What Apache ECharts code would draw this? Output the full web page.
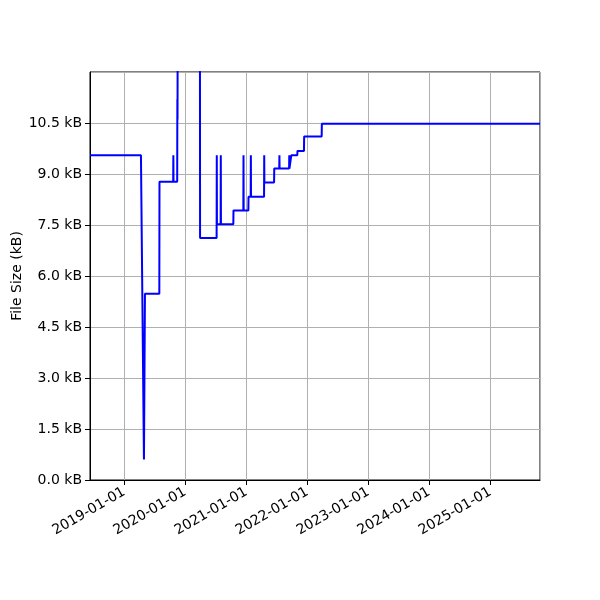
<!DOCTYPE html>
<html>
<head>
<meta charset="utf-8">
<script src="https://cdn.jsdelivr.net/npm/echarts@6/dist/echarts.min.js"></script>
<style>
html,body{margin:0;padding:0;background:#fff;}
#chart{width:600px;height:600px;}
</style>
</head>
<body>
<div id="chart"></div>
<script>
const dates = [
'2018-06-10','2019-04-11','2019-04-29','2019-05-05','2019-07-30','2019-07-31',
'2019-10-21','2019-10-22','2019-10-23','2019-11-14','2019-11-15','2019-11-16',
'2019-11-17','2020-03-29','2020-03-30','2020-07-07','2020-07-08','2020-07-09',
'2020-07-31','2020-08-01','2020-08-02','2020-10-15','2020-10-16','2020-12-14',
'2020-12-15','2020-12-16','2021-01-13','2021-01-14','2021-01-27','2021-01-28',
'2021-01-29','2021-04-17','2021-04-18','2021-04-19','2021-06-16','2021-06-17',
'2021-07-17','2021-07-18','2021-07-19','2021-09-14','2021-09-15','2021-09-16',
'2021-09-26','2021-09-27','2021-11-02','2021-11-03','2021-12-12','2021-12-13',
'2022-03-28','2022-03-29','2025-10-25'
];
const sizesKB = [
9.55,9.55,0.6,5.48,5.48,8.77,
8.77,9.55,8.77,8.77,11.2,10.6,
14.0,14.0,7.12,7.12,9.55,7.52,
7.52,9.55,7.52,7.52,7.93,7.93,
9.55,7.93,7.93,8.33,8.33,9.55,
8.33,8.33,9.55,8.75,8.75,9.16,
9.16,9.55,9.16,9.16,9.55,9.16,
9.16,9.55,9.55,9.68,9.68,10.1,
10.1,10.48,10.48
];
const xStart = '2018-06-10';
const xEnd = '2025-10-25';
const yTicks = [0, 1.5, 3.0, 4.5, 6.0, 7.5, 9.0, 10.5, 12.0];

const points = dates.map((d, i) => [d, sizesKB[i]]);
const YEAR = 365 * 24 * 3600 * 1000;
const FONT = 'DejaVu Sans';

const chart = echarts.init(document.getElementById('chart'), null, {renderer: 'canvas'});
chart.setOption({
  animation: false,
  backgroundColor: '#ffffff',
  grid: {left: 90, right: 60, top: 72, bottom: 120, show: true, borderColor: '#000', borderWidth: 1,
         backgroundColor: 'transparent', containLabel: false, outerBoundsMode: 'none'},
  xAxis: {
    type: 'time',
    min: xStart,
    max: xEnd,
    minInterval: YEAR,
    maxInterval: YEAR,
    splitNumber: 7,
    axisLine: {show: true, lineStyle: {color: '#000', width: 1}},
    axisTick: {show: true, inside: false, length: 5, lineStyle: {color: '#000'}},
    splitLine: {show: true, lineStyle: {color: '#b0b0b0', width: 1}},
    minorTick: {show: false},
    axisLabel: {
      rotate: 30,
      color: '#000',
      fontFamily: FONT,
      fontSize: 14,
      margin: 11,
      showMinLabel: false,
      showMaxLabel: false,
      formatter: function (v) {
        const d = new Date(v);
        const y = d.getFullYear();
        const m = String(d.getMonth() + 1).padStart(2, '0');
        const dd = String(d.getDate()).padStart(2, '0');
        return y + '-' + m + '-' + dd;
      }
    }
  },
  yAxis: {
    type: 'value',
    min: yTicks[0],
    max: yTicks[yTicks.length - 1],
    interval: yTicks[1] - yTicks[0],
    name: 'File Size (kB)',
    nameLocation: 'middle',
    nameRotate: 90,
    nameGap: 66,
    nameMoveOverlap: false,
    nameTextStyle: {color: '#000', fontFamily: FONT, fontSize: 14},
    axisLine: {show: true, lineStyle: {color: '#000', width: 1}},
    axisTick: {show: true, inside: false, length: 5, lineStyle: {color: '#000'}},
    splitLine: {show: true, lineStyle: {color: '#b0b0b0', width: 1}},
    axisLabel: {
      color: '#000',
      fontFamily: FONT,
      fontSize: 14,
      margin: 8,
      showMaxLabel: false,
      formatter: function (v) { return v.toFixed(1) + ' kB'; }
    }
  },
  series: [{
    type: 'line',
    data: points,
    showSymbol: false,
    clip: true,
    lineStyle: {color: '#0000ff', width: 2},
    itemStyle: {color: '#0000ff'}
  }]
});
</script>
</body>
</html>
